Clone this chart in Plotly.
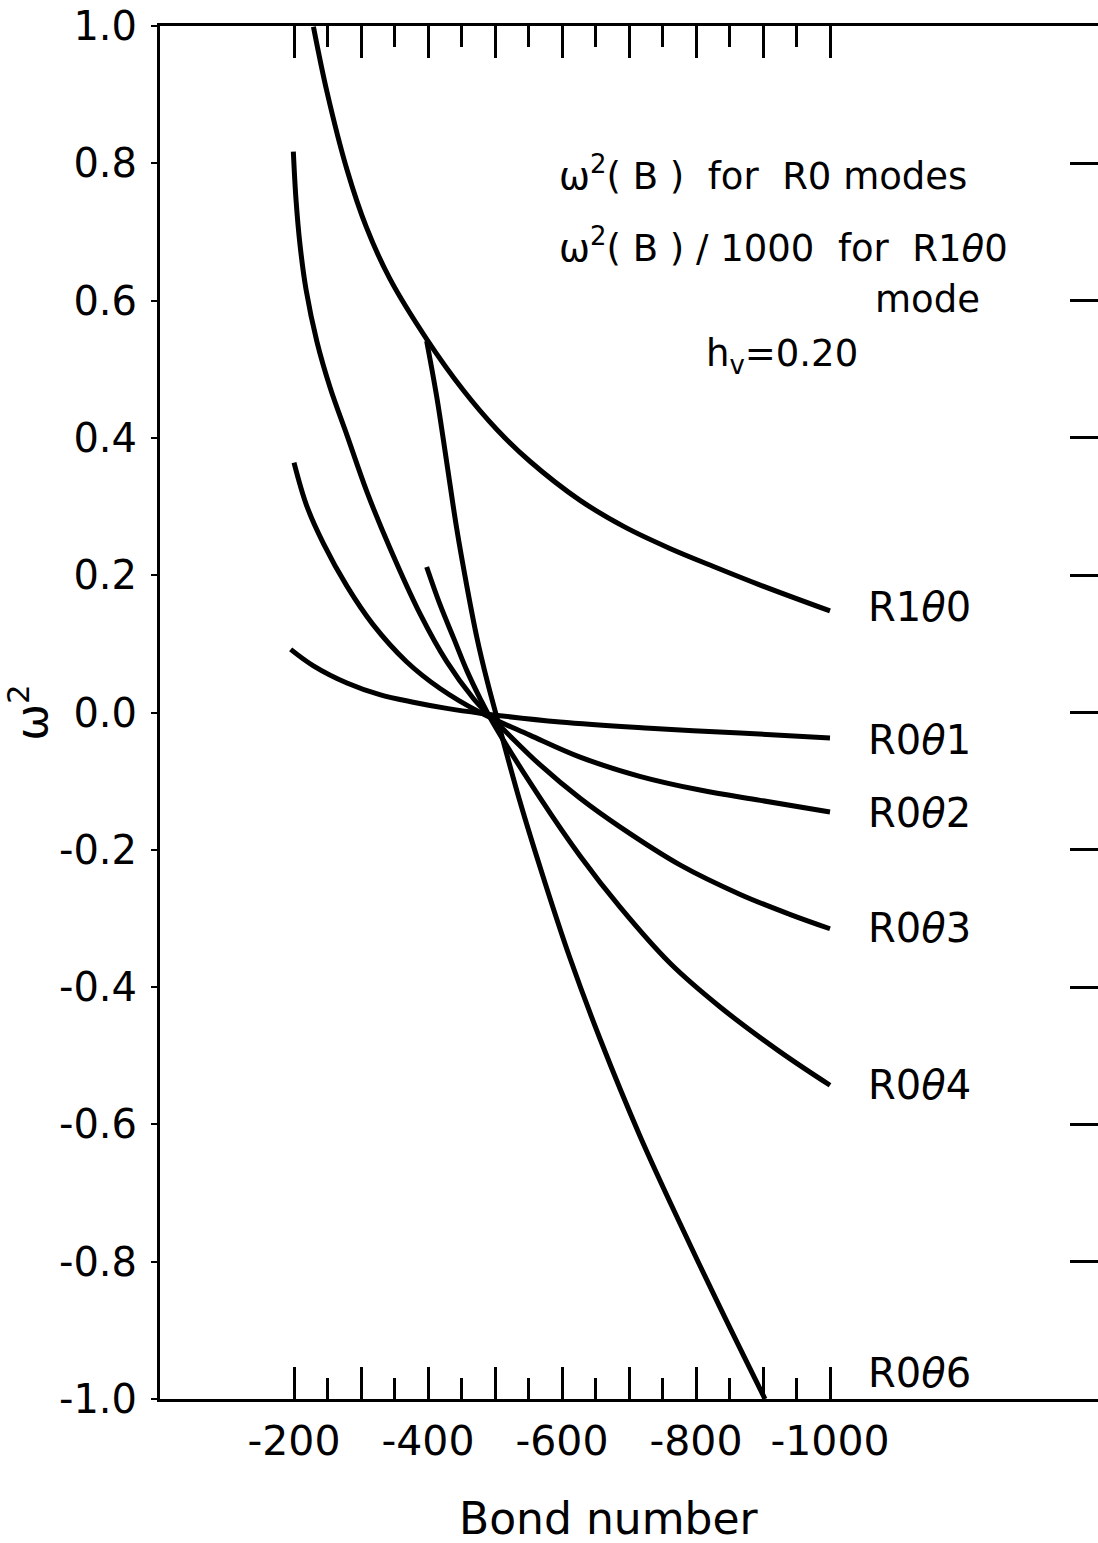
import plotly.graph_objects as go

# ---- data (Bond number B, omega^2) ----
r1t0_B = [-229, -249, -279, -308, -343, -398, -453, -502, -552, -627, -694, -761, -828, -895, -1000]
r1t0_w = [0.999, 0.905, 0.791, 0.707, 0.632, 0.544, 0.469, 0.413, 0.366, 0.309, 0.270, 0.239, 0.212, 0.186, 0.148]

r0t1_B = [-195, -229, -279, -328, -378, -428, -478, -597, -731, -866, -1000]
r0t1_w = [0.092, 0.068, 0.043, 0.026, 0.015, 0.006, -0.001, -0.014, -0.023, -0.030, -0.037]

r0t2_B = [-200, -219, -244, -279, -318, -368, -418, -478, -552, -627, -716, -806, -896, -1000]
r0t2_w = [0.364, 0.301, 0.246, 0.184, 0.128, 0.074, 0.035, 0.000, -0.033, -0.065, -0.093, -0.113, -0.128, -0.145]

r0t3_B = [-199, -203, -209, -218, -234, -254, -279, -309, -343, -388, -428, -468, -488, -515, -567, -627, -687, -776, -866, -940, -1000]
r0t3_w = [0.817, 0.747, 0.681, 0.616, 0.541, 0.473, 0.404, 0.321, 0.240, 0.144, 0.074, 0.020, -0.001, -0.027, -0.076, -0.125, -0.167, -0.222, -0.265, -0.294, -0.315]

r0t4_B = [-398, -418, -438, -458, -478, -497, -567, -627, -687, -761, -836, -925, -1000]
r0t4_w = [0.212, 0.157, 0.109, 0.061, 0.020, -0.015, -0.124, -0.209, -0.284, -0.365, -0.429, -0.494, -0.543]

r0t6_B = [-398, -413, -428, -443, -458, -473, -488, -503, -537, -575, -612, -657, -716, -776, -836, -903]
r0t6_w = [0.541, 0.460, 0.364, 0.267, 0.184, 0.109, 0.047, -0.008, -0.129, -0.249, -0.358, -0.476, -0.616, -0.744, -0.867, -1.0]

x_label_vals = [-200, -400, -600, -800, -1000]
x_label_text = ["-200", "-400", "-600", "-800", "-1000"]
x_long_unlabelled = [-300, -500, -700, -900]
x_short = [-250, -350, -450, -550, -650, -750, -850, -950]
y_ticks = [-1.0, -0.8, -0.6, -0.4, -0.2, 0.0, 0.2, 0.4, 0.6, 0.8, 1.0]
y_tick_text = ["-1.0", "-0.8", "-0.6", "-0.4", "-0.2", "0.0", "0.2", "0.4", "0.6", "0.8", "1.0"]
y_right_ticks = [-0.8, -0.6, -0.4, -0.2, 0.0, 0.2, 0.4, 0.6, 0.8]

curve_labels = ["R1<i>θ</i>0", "R0<i>θ</i>1", "R0<i>θ</i>2", "R0<i>θ</i>3", "R0<i>θ</i>4", "R0<i>θ</i>6"]
curve_label_y = [0.154, -0.040, -0.146, -0.314, -0.543, -0.962]
label_x = -1054

FONT = "DejaVu Sans"

fig = go.Figure()
series = [(r1t0_B, r1t0_w, "x", "y2"), (r0t1_B, r0t1_w, "x2", "y"), (r0t2_B, r0t2_w, "x", "y"),
          (r0t3_B, r0t3_w, "x", "y"), (r0t4_B, r0t4_w, "x", "y"), (r0t6_B, r0t6_w, "x", "y")]
for bx, wy, xa, ya in series:
    fig.add_trace(go.Scatter(x=bx, y=wy, mode="lines", xaxis=xa, yaxis=ya,
                             line=dict(color="black", width=5, shape="spline", smoothing=1.0),
                             showlegend=False, hoverinfo="skip"))

annotations = []
for txt, yy in zip(curve_labels, curve_label_y):
    annotations.append(dict(x=label_x, y=yy, xref="x", yref="y", text=txt, showarrow=False,
                            xanchor="left", yanchor="middle",
                            font=dict(family=FONT, size=40, color="black")))

header = [
    ("ω<sup>2</sup>( B )  for  R0 modes", -592, 0.785),
    ("ω<sup>2</sup>( B ) / 1000  for  R1<i>θ</i>0", -592, 0.680),
    ("mode", -1064, 0.601),
    ("h<sub>v</sub>=0.20", -812, 0.520),
]
for txt, xx, yy in header:
    annotations.append(dict(x=xx, y=yy, xref="x", yref="y", text=txt, showarrow=False,
                            xanchor="left", yanchor="middle",
                            font=dict(family=FONT, size=37, color="black")))

annotations.append(dict(x=-670, y=-0.0867, xref="x", yref="paper", text="Bond number",
                        showarrow=False, xanchor="center", yanchor="middle",
                        font=dict(family=FONT, size=44, color="black")))

common_x = dict(range=[0, -1400], showgrid=False, zeroline=False, automargin=False)

fig.update_layout(
    width=1098, height=1543,
    margin=dict(l=160, r=0, t=26, b=144),
    paper_bgcolor="white", plot_bgcolor="white",
    annotations=annotations,
    xaxis=dict(
        **common_x, tickmode="array", tickvals=x_label_vals, ticktext=x_label_text,
        ticks="inside", ticklen=32, tickwidth=2.5, tickcolor="black",
        showline=True, linecolor="black", linewidth=3, mirror="ticks",
        tickfont=dict(family=FONT, size=41, color="black"), ticklabelstandoff=4,
        minor=dict(tickmode="array", tickvals=x_short, ticks="inside", ticklen=21,
                   tickwidth=2.5, tickcolor="black", showgrid=False),
    ),
    xaxis2=dict(
        **common_x, overlaying="x", anchor="y", side="bottom",
        tickmode="array", tickvals=x_long_unlabelled, ticks="inside", ticklen=32,
        tickwidth=2.5, tickcolor="black", showticklabels=False,
        showline=True, linecolor="black", linewidth=3, mirror="ticks",
    ),
    yaxis=dict(
        range=[-1, 1], tickmode="array", tickvals=y_ticks, ticktext=y_tick_text,
        ticks="outside", ticklen=6, tickwidth=2, tickcolor="black",
        showline=True, linecolor="black", linewidth=3, mirror=False,
        showgrid=False, zeroline=False, automargin=False,
        tickfont=dict(family=FONT, size=40, color="black"), ticklabelstandoff=6,
        title=dict(text="ω<sup>2</sup>", font=dict(family=FONT, size=44, color="black"), standoff=12),
    ),
    yaxis2=dict(
        range=[-1, 1], overlaying="y", side="right", anchor="x",
        tickmode="array", tickvals=y_right_ticks, ticks="inside", ticklen=28,
        tickwidth=2.5, tickcolor="black", showticklabels=False,
        showline=False, showgrid=False, zeroline=False,
    ),
)

fig.write_html("out.html")
